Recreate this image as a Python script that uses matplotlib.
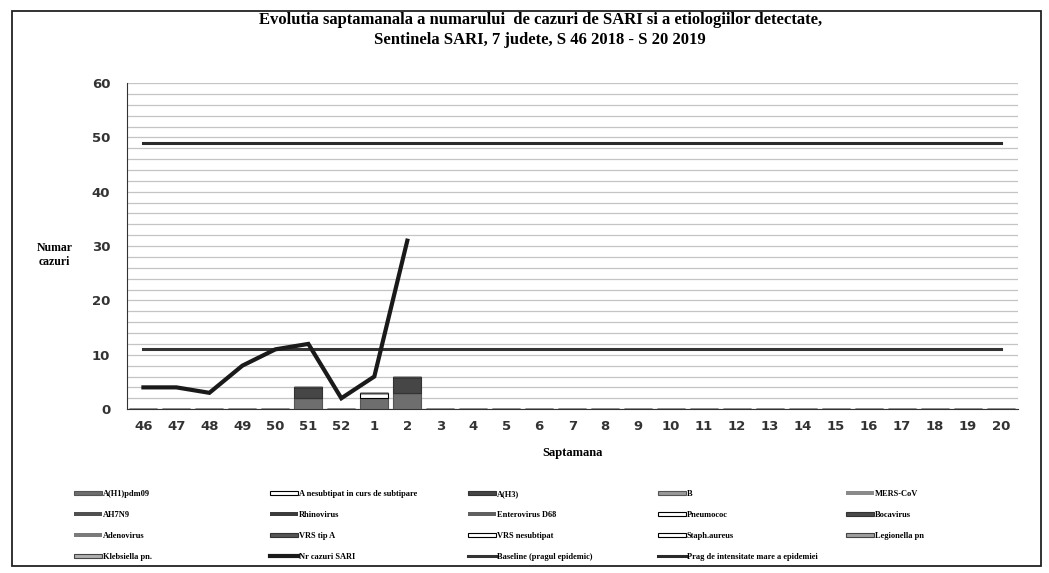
import numpy as np
import matplotlib.pyplot as plt
from matplotlib.patches import Rectangle

# data
weeks = ["46", "47", "48", "49", "50", "51", "52"] + [str(w) for w in range(1, 21)]
nr_sari = [4, 4, 3, 8, 11, 12, 2, 6, 31]          # only up to week 2
baseline = 11
prag = 49

ah1pdm = [0, 0, 0, 0, 0, 2, 0, 2, 3]
a_nesub = [0, 0, 0, 0, 0, 0, 0, 1, 0]
ah3 = [0, 0, 0, 0, 0, 2, 0, 0, 3]

# (label, values, color, edge)
bar_series = [
    ("A(H1)pdm09", ah1pdm, "#6e6e6e", "#555555"),
    ("A nesubtipat in curs de subtipare", a_nesub, "white", "black"),
    ("A(H3)", ah3, "#464646", "#333333"),
    ("B", [], "#9a9a9a", "#555555"),
    ("MERS-CoV", [], "#8a8a8a", "#8a8a8a"),
    ("AH7N9", [], "#505050", "#505050"),
    ("Rhinovirus", [], "#3c3c3c", "#3c3c3c"),
    ("Enterovirus D68", [], "#606060", "#606060"),
    ("Pneumococ", [], "white", "black"),
    ("Bocavirus", [], "#4a4a4a", "#333333"),
    ("Adenovirus", [], "#7a7a7a", "#7a7a7a"),
    ("VRS tip A", [], "#555555", "#333333"),
    ("VRS nesubtipat", [], "white", "black"),
    ("Staph.aureus", [], "white", "black"),
    ("Legionella pn", [], "#a0a0a0", "#444444"),
    ("Klebsiella pn.", [], "#b0b0b0", "#444444"),
]

fig = plt.figure(figsize=(10.49, 5.73), dpi=100)
ax = fig.add_axes([0.121, 0.286, 0.849, 0.569])

x = np.arange(len(weeks))
handles = {}
bottom = np.zeros(len(weeks))
for label, vals, col, ec in bar_series:
    v = np.zeros(len(weeks))
    v[:len(vals)] = vals
    h = ax.bar(x, v, width=0.85, bottom=bottom, color=col, edgecolor=ec,
               linewidth=0.8 if ec != col else 0, label=label, zorder=3)
    bottom += v
    handles[label] = h

l_sari, = ax.plot(x[:len(nr_sari)], nr_sari, color="#1a1a1a", lw=3, zorder=4,
                  solid_joinstyle="miter", label="Nr cazuri SARI")
l_base, = ax.plot(x, [baseline] * len(weeks), color="#333333", lw=2.2, zorder=2,
                  label="Baseline (pragul epidemic)")
l_prag, = ax.plot(x, [prag] * len(weeks), color="#2a2a2a", lw=2.2, zorder=2,
                  label="Prag de intensitate mare a epidemiei")

ax.set_xlim(-0.5, len(weeks) - 0.5)
ax.set_ylim(0, 60)
ax.set_yticks(range(0, 61, 10))
ax.set_yticks(range(0, 61, 2), minor=True)
ax.grid(axis="y", which="both", color="#c4c4c4", lw=0.9, zorder=0)
ax.set_xticks(x)
ax.set_xticklabels(weeks)
ax.tick_params(length=0, which="both", labelsize=9.5)
ax.tick_params(axis="x", pad=8)
ax.tick_params(axis="y", pad=12)
for t in ax.get_xticklabels() + ax.get_yticklabels():
    t.set_fontweight("bold")
    t.set_color("#333333")
for s in ["top", "right"]:
    ax.spines[s].set_visible(False)
ax.spines["left"].set_color("#333333")
ax.spines["bottom"].set_color("#333333")

ax.set_xlabel("Saptamana", fontsize=9, fontweight="bold", family="Liberation Serif",
              labelpad=10)
fig.text(0.052, 0.555, "Numar\ncazuri", fontsize=8.5, fontweight="bold",
         family="Liberation Serif", ha="center", va="center", linespacing=1.3)

fig.text(0.515, 0.948, "Evolutia saptamanala a numarului  de cazuri de SARI si a etiologiilor detectate,\n"
         "Sentinela SARI, 7 judete, S 46 2018 - S 20 2019",
         ha="center", va="center", fontsize=12, fontweight="bold",
         family="Liberation Serif", linespacing=1.3)

# legend laid out as five columns, rows read left to right
handles["Nr cazuri SARI"] = l_sari
handles["Baseline (pragul epidemic)"] = l_base
handles["Prag de intensitate mare a epidemiei"] = l_prag
columns = [
    ["A(H1)pdm09", "AH7N9", "Adenovirus", "Klebsiella pn."],
    ["A nesubtipat in curs de subtipare", "Rhinovirus", "VRS tip A", "Nr cazuri SARI"],
    ["A(H3)", "Enterovirus D68", "VRS nesubtipat", "Baseline (pragul epidemic)"],
    ["B", "Pneumococ", "Staph.aureus", "Prag de intensitate mare a epidemiei"],
    ["MERS-CoV", "Bocavirus", "Legionella pn"],
]
col_x = [75, 271, 469, 659, 847]
for cx, names in zip(col_x, columns):
    leg = fig.legend([handles[k] for k in names], names, loc="upper left",
                     bbox_to_anchor=(cx / 1049 - 0.0045, 1 - 486 / 573), frameon=False,
                     prop={"family": "Liberation Serif", "weight": "bold", "size": 6},
                     handlelength=3.3, handleheight=0.35, handletextpad=0.1,
                     labelspacing=1.55, borderpad=0)

fig.patches.append(Rectangle((0.011, 0.012), 0.981, 0.969, transform=fig.transFigure,
                             fill=False, edgecolor="#222222", lw=1.3))

fig.savefig("out.png", dpi=100)
plt.close(fig)
